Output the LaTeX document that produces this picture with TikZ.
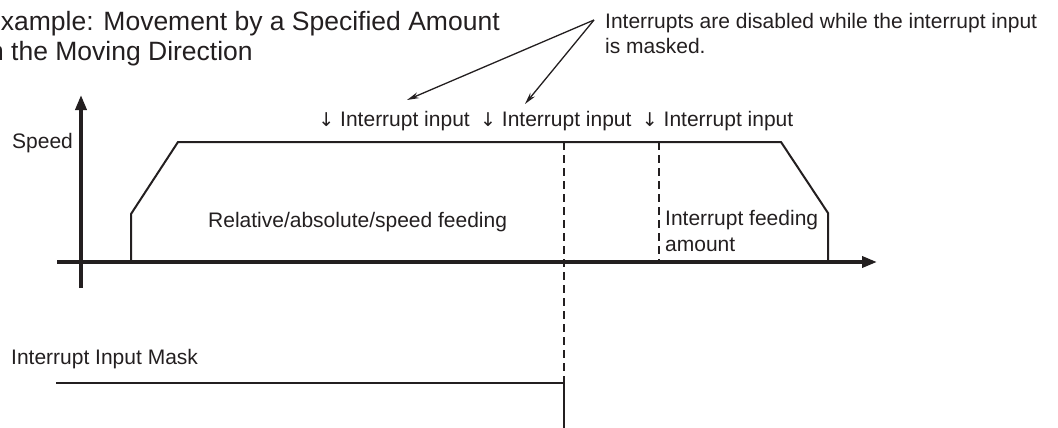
\documentclass[tikz,border=0pt]{standalone}
\usepackage{fontspec}
\setmainfont{Liberation Sans}
\newfontfamily\arrowfont{DejaVu Sans}
\usetikzlibrary{arrows.meta, positioning}
\definecolor{ink}{HTML}{231F20}

\newcommand{\downtick}{{\arrowfont\fontsize{19}{26}\selectfont ↓}}

\begin{document}
\begin{tikzpicture}[
    x=1pt,
    y=-1pt,
    node distance=10pt,
    label/.style={
        inner sep=0pt,
        text=ink,
        align=left,
        font=\fontsize{21}{26}\selectfont
    },
    heading/.style={
        label,
        font=\fontsize{26.5}{31}\selectfont
    },
    axis/.style={-{Triangle[length=15pt, width=11pt]}, line width=3.5pt, draw=ink},
    profile/.style={line width=2pt, draw=ink},
    guide/.style={dash pattern=on 8pt off 5pt, line width=1.5pt, draw=ink},
    pointer/.style={-{Stealth[length=12pt, width=6pt]}, line width=1.3pt, draw=ink}
]

\useasboundingbox (0,0) rectangle (1058,428);

\node[heading, anchor=base west] (title) at (-17,61) {Example: Movement by a Specified Amount\\in the Moving Direction};

\node[label, anchor=base west, font=\fontsize{21}{25}\selectfont] (note) at (605,54) {Interrupts are disabled while the interrupt input\\is masked.};

\node[label, anchor=base east] (in1) at (470,126) {\downtick\ Interrupt input};
\node[label, right=of in1] (in2) {\downtick\ Interrupt input};
\node[label, right=of in2] (in3) {\downtick\ Interrupt input};

\node[label, anchor=base west] (speed) at (12,148) {Speed};
\node[label, anchor=base west] (feeding) at (208,227) {Relative/absolute/speed feeding};
\node[label, anchor=base west] (amount) at (665,251) {Interrupt feeding\\amount};
\node[label, anchor=base west] (mask) at (11,364) {Interrupt Input Mask};

% axes
\draw[axis] (81,288) -- (81,95);
\draw[axis] (57,262) -- (877,262);

% speed profile
\draw[profile] (131,262) -- (131,214) -- (178,142) -- (781,142) -- (828,213) -- (828,262);

% interrupt positions
\draw[guide] (564,142) -- (564,383);
\draw[guide] (659,142) -- (659,262);

% mask signal
\draw[profile] (56,383) -- (564,383) -- (564,428);

% pointers to the masked inputs
\coordinate (vtx) at (594,20);
\coordinate (tip1) at (407,100);
\coordinate (tip2) at (525,104);
\draw[pointer] (vtx) -- (tip1);
\draw[pointer] (vtx) -- (tip2);

\end{tikzpicture}
\end{document}
